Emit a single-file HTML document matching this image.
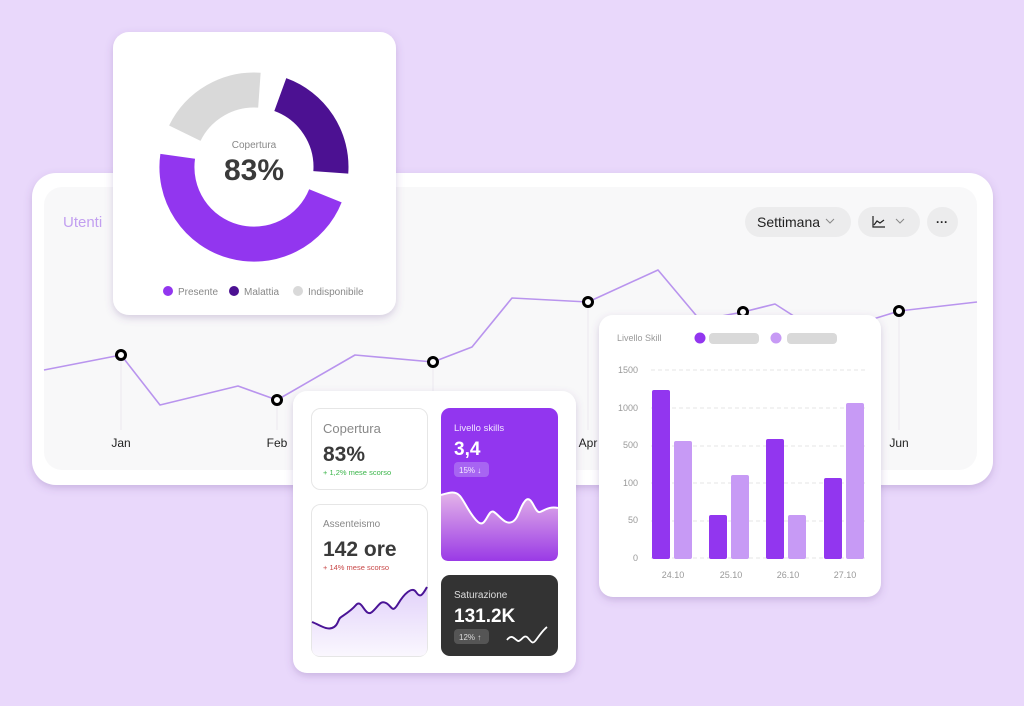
<!DOCTYPE html>
<html><head><meta charset="utf-8"><style>
html,body{margin:0;padding:0;background:#e9d8fb;}
svg{display:block;font-family:"Liberation Sans",sans-serif;}
</style></head><body>
<svg width="1024" height="706" viewBox="0 0 1024 706" xmlns="http://www.w3.org/2000/svg">
<defs>
<filter id="sh" x="-10%" y="-10%" width="120%" height="130%"><feDropShadow dx="0" dy="3" stdDeviation="4" flood-color="#6a4a90" flood-opacity="0.25"/></filter>
<linearGradient id="pg" x1="0" y1="0" x2="0" y2="1"><stop offset="0" stop-color="#e4b4e8"/><stop offset="1" stop-color="#9a3ae6"/></linearGradient>
<linearGradient id="lg" x1="0" y1="0" x2="0" y2="1"><stop offset="0" stop-color="#e2d2fa"/><stop offset="1" stop-color="#faf7fe"/></linearGradient>
</defs>
<rect width="1024" height="706" fill="#e9d8fb"/>
<rect x="32" y="173" width="961" height="312" rx="24" fill="#fff" filter="url(#sh)"/>
<rect x="44" y="187" width="933" height="283" rx="18" fill="#f8f8f9"/>
<text x="63" y="227" font-size="15" fill="#c29ff0">Utenti</text>
<rect x="745" y="207" width="106" height="30" rx="15" fill="#ececed"/>
<text x="757" y="227" font-size="14" fill="#222">Settimana</text>
<path d="M826 219l4 4 4-4" stroke="#888" fill="none"/>
<rect x="858" y="207" width="62" height="30" rx="15" fill="#ececed"/>
<path d="M873 216v11h12M874 225l3-4 3 2 4-3" stroke="#222" fill="none" stroke-width="1.2"/>
<path d="M896 219l4 4 4-4" stroke="#888" fill="none"/>
<rect x="927" y="207" width="31" height="30" rx="15" fill="#ececed"/>
<text x="942" y="226" font-size="12" fill="#222" text-anchor="middle" font-weight="bold">···</text>
<g stroke="#ebe9f0" stroke-width="1">
<line x1="121" y1="355" x2="121" y2="430"/><line x1="277" y1="400" x2="277" y2="430"/><line x1="433" y1="362" x2="433" y2="430"/><line x1="588" y1="302" x2="588" y2="430"/><line x1="743" y1="312" x2="743" y2="430"/><line x1="899" y1="311" x2="899" y2="430"/>
</g>
<path d="M44 370L121 355L160 405L238 386L277 400L355 355L433 362L472 347L512 298L588 302L658 270L700 320L743 312L775 304L800 320L870 320L899 311L977 302" fill="none" stroke="#b994ee" stroke-width="1.6" stroke-linejoin="round"/>
<g fill="#fff" stroke="#000" stroke-width="3">
<circle cx="121" cy="355" r="4.5"/><circle cx="277" cy="400" r="4.5"/><circle cx="433" cy="362" r="4.5"/><circle cx="588" cy="302" r="4.5"/><circle cx="743" cy="312" r="4.5"/><circle cx="899" cy="311" r="4.5"/>
</g>
<g font-size="12" fill="#222" text-anchor="middle">
<text x="121" y="447">Jan</text><text x="277" y="447">Feb</text><text x="588" y="447">Apr</text><text x="899" y="447">Jun</text>
</g>
<rect x="113" y="32" width="283" height="283" rx="16" fill="#fff" filter="url(#sh)"/>
<g fill="none" stroke-width="35">
<path d="M325.4 195.8 A77 77 0 0 1 177.7 156.3" stroke="#9236ef"/>
<path d="M280.3 94.6 A77 77 0 0 1 330.8 172.4" stroke="#4c1192"/>
<path d="M184.8 133.2 A77 77 0 0 1 259.4 90.2" stroke="#d9d9d9"/>
</g>
<text x="254" y="148" font-size="10" fill="#888" text-anchor="middle">Copertura</text>
<text x="254" y="180" font-size="30" font-weight="bold" fill="#3a3a3a" text-anchor="middle">83%</text>
<g font-size="10" fill="#888">
<circle cx="168" cy="291" r="5" fill="#9236ef"/><text x="178" y="295">Presente</text>
<circle cx="234" cy="291" r="5" fill="#4c1192"/><text x="244" y="295">Malattia</text>
<circle cx="298" cy="291" r="5" fill="#d9d9d9"/><text x="308" y="295">Indisponibile</text>
</g>
<rect x="293" y="391" width="283" height="282" rx="14" fill="#fff" filter="url(#sh)"/>
<rect x="311.5" y="408.5" width="116" height="81" rx="9" fill="#fff" stroke="#e6e6e6"/>
<text x="323" y="433" font-size="13" fill="#888">Copertura</text>
<text x="323" y="461" font-size="21" font-weight="bold" fill="#3a3a3a">83%</text>
<text x="323" y="475" font-size="7.5" fill="#3bb54a">+ 1,2% mese scorso</text>
<rect x="311.5" y="504.5" width="116" height="152" rx="9" fill="#fff" stroke="#e6e6e6"/>
<path d="M312 622 C320 625 326 630 332 628 S338 620 340 618 S350 612 356 605 S365 618 372 612 S380 600 386 603 S392 614 398 604 S412 586 416 592 S422 596 427 587 V648 Q427 656 419 656 H320 Q312 656 312 648Z" fill="url(#lg)"/>
<path d="M312 622 C320 625 326 630 332 628 S338 620 340 618 S350 612 356 605 S365 618 372 612 S380 600 386 603 S392 614 398 604 S412 586 416 592 S422 596 427 587" fill="none" stroke="#4a1496" stroke-width="2"/>
<text x="323" y="527" font-size="10" fill="#888">Assenteismo</text>
<text x="323" y="556" font-size="21" font-weight="bold" fill="#3a3a3a">142 ore</text>
<text x="323" y="570" font-size="7.5" fill="#c84848">+ 14% mese scorso</text>
<rect x="441" y="408" width="117" height="153" rx="9" fill="#9236ef"/>
<path d="M441 495 C448 493 455 490 460 496 S470 515 478 522 S488 508 494 512 S505 525 512 522 S520 505 526 500 S535 514 540 512 S550 506 558 508 V553 Q558 561 550 561 H449 Q441 561 441 553Z" fill="url(#pg)"/>
<path d="M441 495 C448 493 455 490 460 496 S470 515 478 522 S488 508 494 512 S505 525 512 522 S520 505 526 500 S535 514 540 512 S550 506 558 508" fill="none" stroke="#fff" stroke-width="2"/>
<text x="454" y="431" font-size="9.5" fill="#f0e4ff">Livello skills</text>
<text x="454" y="455" font-size="19" font-weight="bold" fill="#fff">3,4</text>
<rect x="454" y="462" width="35" height="15" rx="4" fill="#a765f2"/>
<text x="459" y="473" font-size="8" fill="#f4eaff">15% ↓</text>
<rect x="441" y="575" width="117" height="81" rx="9" fill="#333"/>
<text x="454" y="598" font-size="10" fill="#ddd">Saturazione</text>
<text x="454" y="622" font-size="19" font-weight="bold" fill="#fff">131.2K</text>
<rect x="454" y="629" width="35" height="15" rx="4" fill="#555"/>
<text x="459" y="640" font-size="8" fill="#ddd">12% ↑</text>
<path d="M507 640 C512 633 515 640 518 641 S524 633 528 638 S533 644 536 640 S543 630 547 627" fill="none" stroke="#fff" stroke-width="1.8"/>
<rect x="599" y="315" width="282" height="282" rx="14" fill="#fff" filter="url(#sh)"/>
<text x="617" y="341" font-size="9" fill="#999">Livello Skill</text>
<circle cx="700" cy="338" r="5.5" fill="#9236ef"/><rect x="709" y="333" width="50" height="11" rx="4" fill="#d9d9d9"/>
<circle cx="776" cy="338" r="5.5" fill="#c79af5"/><rect x="787" y="333" width="50" height="11" rx="4" fill="#d9d9d9"/>
<g stroke="#e4e4e4" stroke-dasharray="4 3">
<line x1="651" y1="370" x2="865" y2="370"/><line x1="651" y1="408" x2="865" y2="408"/><line x1="651" y1="446" x2="865" y2="446"/><line x1="651" y1="483" x2="865" y2="483"/><line x1="651" y1="521" x2="865" y2="521"/><line x1="651" y1="558" x2="865" y2="558"/>
</g>
<g font-size="9" fill="#999" text-anchor="end">
<text x="638" y="373">1500</text><text x="638" y="411">1000</text><text x="638" y="448">500</text><text x="638" y="486">100</text><text x="638" y="523">50</text><text x="638" y="561">0</text>
</g>
<g>
<rect x="652" y="390" width="18" height="169" rx="2" fill="#9236ef"/><rect x="674" y="441" width="18" height="118" rx="2" fill="#c79af5"/>
<rect x="709" y="515" width="18" height="44" rx="2" fill="#9236ef"/><rect x="731" y="475" width="18" height="84" rx="2" fill="#c79af5"/>
<rect x="766" y="439" width="18" height="120" rx="2" fill="#9236ef"/><rect x="788" y="515" width="18" height="44" rx="2" fill="#c79af5"/>
<rect x="824" y="478" width="18" height="81" rx="2" fill="#9236ef"/><rect x="846" y="403" width="18" height="156" rx="2" fill="#c79af5"/>
</g>
<g font-size="9" fill="#999" text-anchor="middle">
<text x="673" y="578">24.10</text><text x="731" y="578">25.10</text><text x="788" y="578">26.10</text><text x="845" y="578">27.10</text>
</g>
</svg>
</body></html>
